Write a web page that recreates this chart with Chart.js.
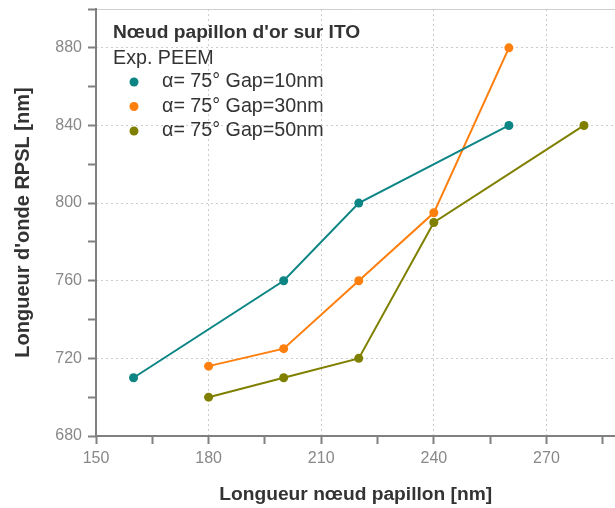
<!DOCTYPE html>
<html>
<head>
<meta charset="utf-8">
<script src="https://cdn.jsdelivr.net/npm/chart.js@4.4.0/dist/chart.umd.min.js"></script>
<style>
  html, body { margin: 0; padding: 0; background: #fff; overflow: hidden; }
  /* a bit wider than the window: chart.js keeps ~5px for point overflow on the right */
  #wrap { width: 620px; height: 508px; position: relative; }
</style>
</head>
<body>
<div id="wrap"><canvas id="chart"></canvas></div>
<script>
// data
const gap10X = [160, 200, 220, 260];
const gap10Y = [710, 760, 800, 840];
const gap30X = [180, 200, 220, 240, 260];
const gap30Y = [716, 725, 760, 795, 880];
const gap50X = [180, 200, 220, 240, 280];
const gap50Y = [700, 710, 720, 790, 840];
const seriesLabels = ["α= 75° Gap=10nm", "α= 75° Gap=30nm", "α= 75° Gap=50nm"];
const legendTitle = "Nœud papillon d'or sur ITO";
const legendSub = "Exp. PEEM";
const xTicks = [150, 180, 210, 240, 270];
const yTicks = [680, 720, 760, 800, 840, 880];
const xMinor = [165, 195, 225, 255, 285];
const yMinor = [700, 740, 780, 820, 860, 900];

const colors = ["#0e8585", "#ff7f0e", "#808000"];
const FONT = "'Liberation Sans', Arial, sans-serif";

function pts(xs, ys) {
  return xs.map((x, i) => ({ x: x, y: ys[i] }));
}

function mkSet(i, xs, ys) {
  return {
    label: seriesLabels[i],
    data: pts(xs, ys),
    showLine: true,
    borderColor: colors[i],
    backgroundColor: colors[i],
    borderWidth: 2,
    pointRadius: 4.5,
    pointHoverRadius: 4.5,
    pointBorderWidth: 0
  };
}

function allTicks(major, minor) {
  return major.concat(minor).sort((a, b) => a - b).map(v => ({ value: v }));
}

// legend drawn inside the plot, top left
const insideLegend = {
  id: "insideLegend",
  afterDraw(chart) {
    const c = chart.ctx;
    c.save();
    c.textBaseline = "middle";
    c.fillStyle = "#333";
    c.font = "bold 19.2px " + FONT;
    c.fillText(legendTitle, 113, 33);
    c.font = "19.7px " + FONT;
    c.fillText(legendSub, 113, 59);
    chart.data.datasets.forEach((ds, i) => {
      const y = 82 + i * 24.5;
      c.fillStyle = ds.borderColor;
      c.beginPath();
      c.arc(134, y, 4.5, 0, Math.PI * 2);
      c.fill();
      c.fillStyle = "#333";
      c.fillText(ds.label, 162, y);
    });
    c.restore();
  }
};

// solid axis lines + light top frame
const frame = {
  id: "frame",
  beforeDatasetsDraw(chart) {
    const a = chart.chartArea, c = chart.ctx;
    c.save();
    c.strokeStyle = "#d0d0d0";
    c.lineWidth = 1;
    c.beginPath();
    c.moveTo(a.left, a.top + 0.5);
    c.lineTo(a.right, a.top + 0.5);
    c.stroke();
    c.strokeStyle = "#808080";
    c.lineWidth = 2;
    c.beginPath();
    c.moveTo(a.left, a.top - 1);
    c.lineTo(a.left, a.bottom);
    c.lineTo(a.right, a.bottom);
    c.stroke();
    c.restore();
  }
};

const chart = new Chart(document.getElementById("chart"), {
  type: "scatter",
  data: {
    datasets: [
      mkSet(0, gap10X, gap10Y),
      mkSet(1, gap30X, gap30Y),
      mkSet(2, gap50X, gap50Y)
    ]
  },
  options: {
    responsive: true,
    maintainAspectRatio: false,
    animation: false,
    layout: { padding: { top: 9, right: 0, left: 0, bottom: 0 } },
    plugins: {
      legend: { display: false },
      tooltip: { enabled: false }
    },
    scales: {
      x: {
        type: "linear",
        min: 150,
        max: 288.4,
        afterBuildTicks(s) { s.ticks = allTicks(xTicks, xMinor); },
        afterFit(s) { s.height = 72; s.paddingLeft = 0; s.paddingRight = 0; },
        ticks: {
          color: "#888",
          font: { family: FONT, size: 16 },
          padding: 5,
          maxRotation: 0,
          autoSkip: false,
          callback: v => xTicks.includes(v) ? v : ""
        },
        grid: {
          color: ctx => (ctx.tick && xTicks.includes(ctx.tick.value) && ctx.tick.value !== 150) ? "#cccccc" : "rgba(0,0,0,0)",
          tickColor: "#808080",
          tickLength: 8,
          lineWidth: 1,
          tickWidth: 2
        },
        border: { display: false, dash: [2, 3] },
        title: {
          display: true,
          text: "Longueur nœud papillon [nm]",
          color: "#333",
          font: { family: FONT, size: 19.2, weight: "bold" },
          padding: { top: 14, bottom: 2 }
        }
      },
      y: {
        type: "linear",
        min: 680,
        max: 900,
        afterBuildTicks(s) { s.ticks = allTicks(yTicks, yMinor); },
        afterFit(s) { s.width = 96; s.paddingTop = 0; s.paddingBottom = 0; },
        ticks: {
          color: "#888",
          font: { family: FONT, size: 16 },
          padding: 6,
          autoSkip: false,
          callback: v => yTicks.includes(v) ? v : ""
        },
        grid: {
          color: ctx => (ctx.tick && yTicks.includes(ctx.tick.value) && ctx.tick.value !== 680) ? "#cccccc" : "rgba(0,0,0,0)",
          tickColor: "#808080",
          tickLength: 8,
          lineWidth: 1,
          tickWidth: 2
        },
        border: { display: false, dash: [2, 3] },
        title: {
          display: true,
          text: "Longueur d'onde RPSL [nm]",
          color: "#333",
          font: { family: FONT, size: 20, weight: "bold" },
          padding: { top: 11, bottom: 4 }
        }
      }
    }
  },
  plugins: [insideLegend, frame]
});
</script>
</body>
</html>
